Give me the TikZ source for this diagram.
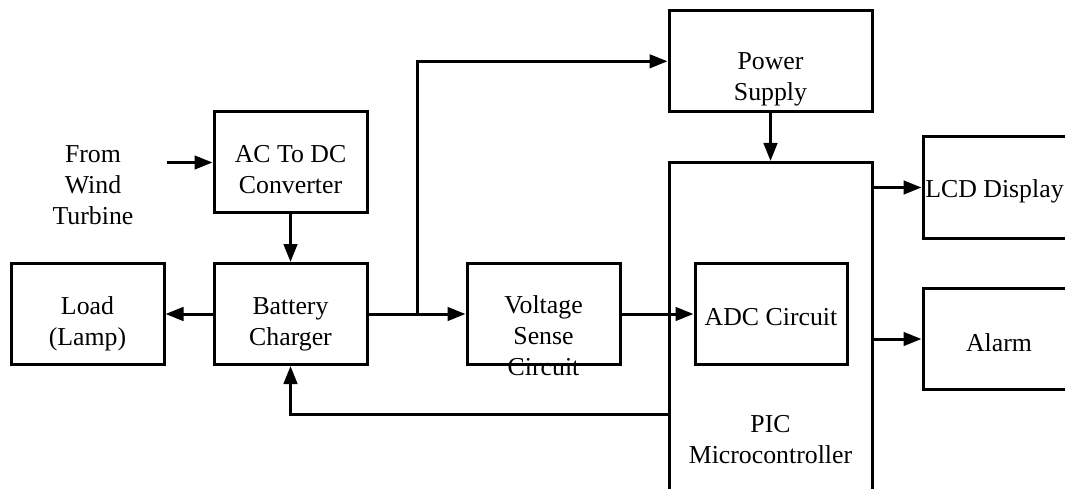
\documentclass[tikz,border=0pt]{standalone}
\usepackage{fontspec}
\setmainfont{Liberation Serif}
\usetikzlibrary{arrows.meta}
\tikzset{
  box/.style={draw, line width=3pt, inner sep=0pt, minimum width=153pt, minimum height=101pt},
  txt/.style={align=center, inner sep=0pt, font=\fontsize{25.8}{31}\selectfont},
  arr/.style={line width=3pt, -{Triangle[length=18pt,width=13.5pt]}}
}
\begin{document}
\begin{tikzpicture}[x=1pt,y=-1pt]
\useasboundingbox (0,0) rectangle (1065,489);
\clip (0,0) rectangle (1065,489);
% boxes
\node[box] (ac) at (290.5,162.2) {};
\node[box] (batt) at (290.5,314) {};
\node[box] (load) at (87.5,314) {};
\node[box] (volt) at (543.5,314) {};
\node[box, minimum width=152pt] (adc) at (771,314) {};
\node[box, minimum width=203pt] (ps) at (770.5,61.3) {};
\node[box, minimum width=203pt, minimum height=555pt] (pic) at (770.5,440) {};
\node[box, minimum width=152pt] (lcd) at (999,187.5) {};
\node[box, minimum width=152pt] (alarm) at (999,339) {};
% texts
\node[txt] (fromtxt) at (93,185) {From\\Wind\\Turbine};
\node[txt] (actxt) at (290.5,169.7) {AC To DC\\Converter};
\node[txt] (batttxt) at (290.5,324) {Battery\\Charger};
\node[txt] (loadtxt) at (87.5,324) {Load\\(Lamp)};
\node[txt] (volttxt) at (543.5,336) {Voltage\\Sense\\Circuit};
\node[txt] (adctxt) at (771,316.7) {ADC Circuit};
\node[txt] (pstxt) at (770.5,79.4) {Power\\Supply};
\node[txt] (pictxt) at (770.5,440) {PIC\\Microcontroller};
\node[txt] (lcdtxt) at (994.5,191) {LCD Display};
\node[txt] (alarmtxt) at (999,342.2) {Alarm};
% connectors
\coordinate (in) at (167,162.5);
\coordinate (j) at (417,314);
\coordinate (fb) at (0,414);
\draw[arr] (in) -- (in -| ac.west);
\draw[arr] (ac.south) -- (batt.north);
\draw[arr] (batt.west) -- (load.east);
\draw[arr] (batt.east) -- (volt.west);
\draw[arr] (j) |- (ps.west);
\draw[arr] (volt.east) -- (adc.west);
\draw[arr] (ps.south) -- (pic.north);
\draw[arr] (pic.east |- lcd.west) -- (lcd.west);
\draw[arr] (pic.east |- alarm.west) -- (alarm.west);
\draw[arr] (pic.west |- fb) -| (batt.south);
\end{tikzpicture}
\end{document}
